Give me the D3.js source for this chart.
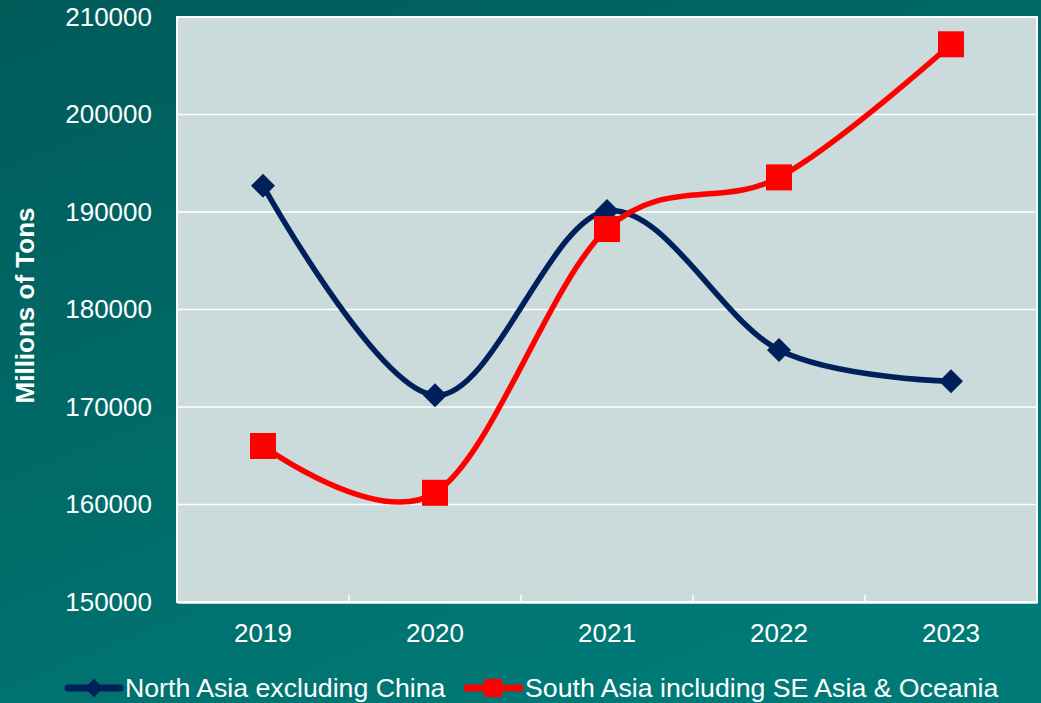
<!DOCTYPE html>
<html>
<head>
<meta charset="utf-8">
<script src="https://cdn.jsdelivr.net/npm/d3@7"></script>
<style>
  html, body { margin: 0; padding: 0; overflow: hidden; }
  svg { display: block; font-family: "Liberation Sans", Arial, sans-serif; }
</style>
</head>
<body>
<div id="chart"></div>
<script>
// values
const years = ["2019", "2020", "2021", "2022", "2023"];
const northAsia = [192700, 171200, 190100, 175850, 172650];
const southAsia = [166000, 161200, 188250, 193550, 207200];
const yTicks = [150000, 160000, 170000, 180000, 190000, 200000, 210000];
const seriesNames = ["North Asia excluding China", "South Asia including SE Asia & Oceania"];

let height = 703,
    width = 1041,
    margin = ({ top: 17, right: 4, bottom: 101, left: 177 });

const svg = d3.select("#chart")
  .append("svg")
  .attr("width", width)
  .attr("height", height);

// teal background
let grad = svg.append("defs").append("linearGradient")
  .attr("id", "bg")
  .attr("x1", 0).attr("y1", 0).attr("x2", 0.6).attr("y2", 1);
grad.append("stop").attr("offset", "0%").attr("stop-color", "#005b59");
grad.append("stop").attr("offset", "100%").attr("stop-color", "#007a77");

svg.append("rect")
  .attr("width", width)
  .attr("height", height)
  .attr("fill", "url(#bg)");

let x = d3.scaleBand()
  .domain(years)
  .range([margin.left, width - margin.right]);

let y = d3.scaleLinear()
  .domain([150000, 210000])
  .range([height - margin.bottom, margin.top]);

// plot area
svg.append("rect")
  .attr("x", margin.left)
  .attr("y", margin.top)
  .attr("width", width - margin.right - margin.left)
  .attr("height", height - margin.bottom - margin.top)
  .attr("fill", "#cbdada")
  .attr("stroke", "#ffffff")
  .attr("stroke-width", 2);

// gridlines
svg.append("g")
  .selectAll("line")
  .data(yTicks.slice(1, -1))
  .join("line")
  .attr("x1", margin.left)
  .attr("x2", width - margin.right)
  .attr("y1", d => y(d))
  .attr("y2", d => y(d))
  .attr("stroke", "#ffffff")
  .attr("stroke-width", 1.5);

// y axis labels
let yAxis = svg.append("g")
  .attr("transform", `translate(${margin.left},0)`)
  .call(d3.axisLeft(y).tickValues(yTicks).tickSize(0).tickPadding(25).tickFormat(d => d));
yAxis.select(".domain").remove();
yAxis.selectAll("text")
  .attr("fill", "#ffffff")
  .style("font-size", "26px")
  .style("font-family", "'Liberation Sans', Arial, sans-serif");

// x axis: ticks between categories, pointing inward
let xAxis = svg.append("g")
  .attr("transform", `translate(0,${height - margin.bottom})`)
  .call(d3.axisBottom(x).tickSize(0).tickPadding(22));
xAxis.select(".domain")
  .attr("stroke", "#ffffff")
  .attr("stroke-width", 2.5);
xAxis.selectAll("text")
  .attr("fill", "#ffffff")
  .style("font-size", "26px")
  .style("font-family", "'Liberation Sans', Arial, sans-serif");

svg.append("g")
  .selectAll("line")
  .data(years.slice(1))
  .join("line")
  .attr("x1", d => x(d))
  .attr("x2", d => x(d))
  .attr("y1", height - margin.bottom)
  .attr("y2", height - margin.bottom - 7)
  .attr("stroke", "#ffffff")
  .attr("stroke-width", 1.5);

// axis title
svg.append("text")
  .text("Millions of Tons")
  .attr("transform", `translate(34,${(margin.top + height - margin.bottom) / 2 - 4}) rotate(-90)`)
  .attr("text-anchor", "middle")
  .attr("fill", "#ffffff")
  .style("font-size", "26px")
  .style("font-weight", "bold");

let line = d3.line()
  .x((d, i) => x(years[i]) + x.bandwidth() / 2)
  .y(d => y(d))
  .curve(d3.curveCatmullRom.alpha(0));

const navy = "#00205c";
const red = "#ff0000";

// north asia
svg.append("path")
  .datum(northAsia)
  .attr("fill", "none")
  .attr("stroke", navy)
  .attr("stroke-width", 5.5)
  .attr("d", line);

svg.append("g")
  .selectAll("rect")
  .data(northAsia)
  .join("rect")
  .attr("x", -8.5)
  .attr("y", -8.5)
  .attr("width", 17)
  .attr("height", 17)
  .attr("fill", navy)
  .attr("transform", (d, i) => `translate(${x(years[i]) + x.bandwidth() / 2},${y(d)}) rotate(45)`);

// south asia
svg.append("path")
  .datum(southAsia)
  .attr("fill", "none")
  .attr("stroke", red)
  .attr("stroke-width", 5.5)
  .attr("d", line);

svg.append("g")
  .selectAll("rect")
  .data(southAsia)
  .join("rect")
  .attr("x", (d, i) => x(years[i]) + x.bandwidth() / 2 - 13)
  .attr("y", d => y(d) - 13)
  .attr("width", 26)
  .attr("height", 26)
  .attr("fill", red);

// legend
let legend = svg.append("g").attr("transform", "translate(0,688)");

legend.append("line")
  .attr("x1", 68).attr("x2", 120)
  .attr("stroke", navy).attr("stroke-width", 7).attr("stroke-linecap", "round");
legend.append("rect")
  .attr("x", -6.5).attr("y", -6.5).attr("width", 13).attr("height", 13)
  .attr("fill", navy)
  .attr("transform", "translate(94,0) rotate(45)");
legend.append("text")
  .text(seriesNames[0])
  .attr("x", 125).attr("y", 9)
  .attr("fill", "#ffffff")
  .style("font-size", "26.7px");

legend.append("line")
  .attr("x1", 467).attr("x2", 520)
  .attr("stroke", red).attr("stroke-width", 7).attr("stroke-linecap", "round");
legend.append("rect")
  .attr("x", 484).attr("y", -9).attr("width", 18).attr("height", 18)
  .attr("fill", red);
legend.append("text")
  .text(seriesNames[1])
  .attr("x", 525).attr("y", 9)
  .attr("fill", "#ffffff")
  .style("font-size", "26.7px");
</script>
</body>
</html>
